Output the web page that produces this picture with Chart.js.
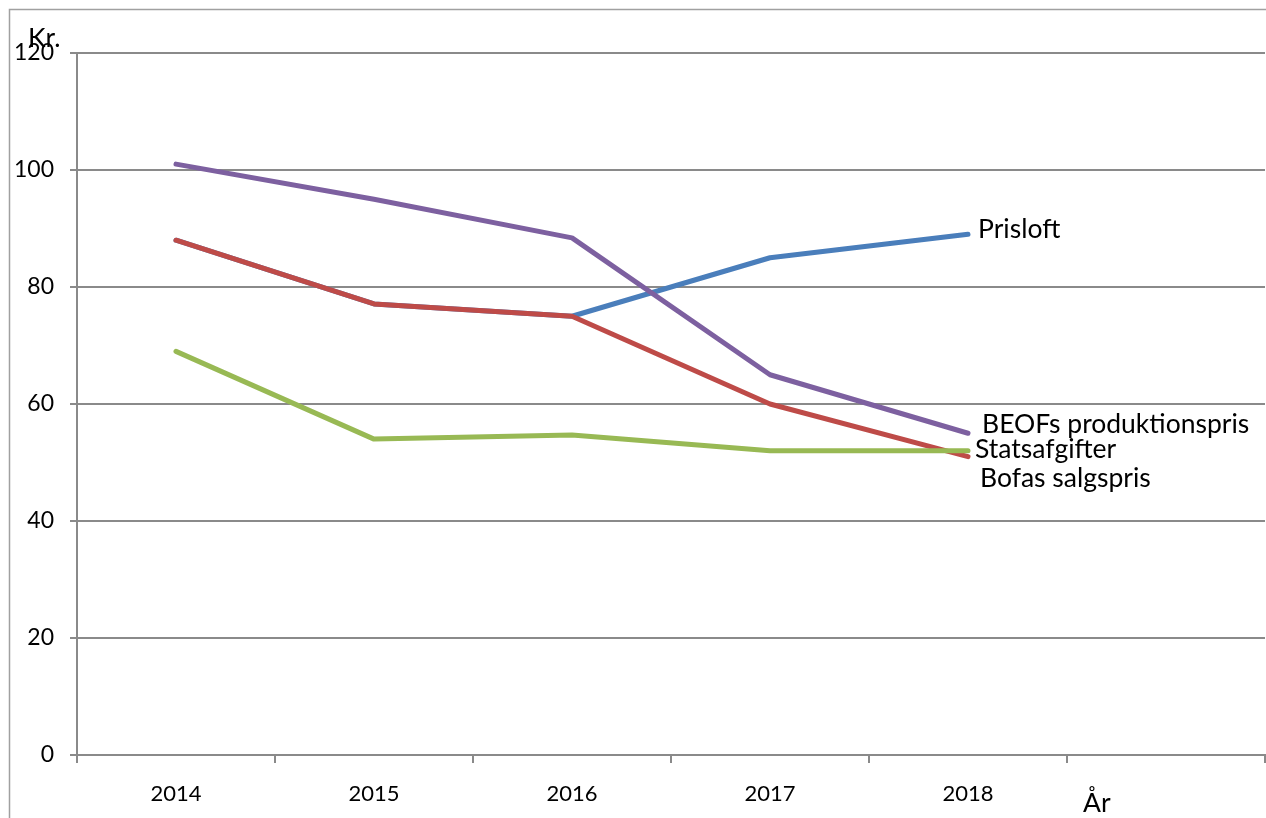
<!DOCTYPE html>
<html>
<head>
<meta charset="utf-8">
<script src="https://cdn.jsdelivr.net/npm/chart.js@4"></script>
<style>
  html, body { margin: 0; padding: 0; background: #fff; }
  #wrap { position: relative; width: 1266px; height: 818px; }
</style>
</head>
<body>
<div id="wrap"><canvas id="prisChart" width="1266" height="818"></canvas></div>
<script>
// Priser pr. år (kr.)
const years = ['2014', '2015', '2016', '2017', '2018', ''];
const prisloft = [88, 77.1, 75, 85, 89, null];
const bofasSalgspris = [88, 77.1, 75, 60, 51, null];
const beofsProduktionspris = [101, 95, 88.4, 65, 55, null];
const statsafgifter = [69, 54, 54.7, 52, 52, null];
const yTicks = [0, 20, 40, 60, 80, 100, 120];

const FONT = 'Lato, "Open Sans", sans-serif';
const GRID = '#8a8a8a';

// Tekster ved enden af linjerne + aksetitler
const endLabels = {
  id: 'endLabels',
  afterDatasetsDraw(chart) {
    const ctx = chart.ctx;
    const x = chart.scales.x;
    const y = chart.scales.y;
    ctx.save();
    ctx.fillStyle = '#000';
    ctx.font = '26.5px ' + FONT;
    ctx.textBaseline = 'middle';
    ctx.textAlign = 'left';
    const xe = x.getPixelForValue(4);
    ctx.fillText('Prisloft', xe + 10, y.getPixelForValue(prisloft[4]) - 5);
    ctx.fillText('BEOFs produktionspris', xe + 14, y.getPixelForValue(beofsProduktionspris[4]) - 9);
    ctx.fillText('Statsafgifter', xe + 7, y.getPixelForValue(statsafgifter[4]) - 1);
    ctx.fillText('Bofas salgspris', xe + 12, y.getPixelForValue(bofasSalgspris[4]) + 22);
    ctx.fillText('Kr.', 28, 38);
    ctx.fillText('År', 1083, 803);
    // ramme om diagrammet
    ctx.strokeStyle = '#a0a0a0';
    ctx.lineWidth = 1.5;
    ctx.strokeRect(9.5, 9.5, 1400, 1000);
    ctx.restore();
  }
};

const chart = new Chart(document.getElementById('prisChart'), {
  type: 'line',
  data: {
    labels: years,
    datasets: [
      { label: 'Prisloft', data: prisloft, borderColor: '#4a7ebb', order: 4 },
      { label: 'Bofas salgspris', data: bofasSalgspris, borderColor: '#be4b48', order: 3 },
      { label: 'BEOFs produktionspris', data: beofsProduktionspris, borderColor: '#7d60a0', order: 2 },
      { label: 'Statsafgifter', data: statsafgifter, borderColor: '#98b954', order: 1 }
    ]
  },
  options: {
    responsive: false,
    animation: false,
    devicePixelRatio: 1,
    layout: { padding: { top: 53, right: 1, left: 0, bottom: 0 } },
    elements: {
      line: { borderWidth: 5, tension: 0, fill: false, borderCapStyle: 'round', borderJoinStyle: 'round' },
      point: { radius: 0, hoverRadius: 0 }
    },
    plugins: {
      legend: { display: false },
      tooltip: { enabled: false }
    },
    scales: {
      x: {
        offset: true,
        grid: {
          offset: true,
          drawOnChartArea: false,
          drawTicks: true,
          tickLength: 8,
          color: GRID,
          lineWidth: 2
        },
        border: { color: GRID, width: 2 },
        ticks: { color: '#000', font: { family: FONT, size: 22 }, padding: 18, maxRotation: 0 },
        afterFit(scale) { scale.height = 63; }
      },
      y: {
        min: 0,
        max: 120,
        afterBuildTicks(scale) { scale.ticks = yTicks.map(v => ({ value: v })); },
        grid: { color: GRID, lineWidth: 2, tickLength: 7 },
        border: { color: GRID, width: 2 },
        ticks: { color: '#000', font: { family: FONT, size: 23 }, padding: 16 },
        afterFit(scale) { scale.width = 77; }
      }
    }
  },
  plugins: [endLabels]
});
</script>
</body>
</html>
